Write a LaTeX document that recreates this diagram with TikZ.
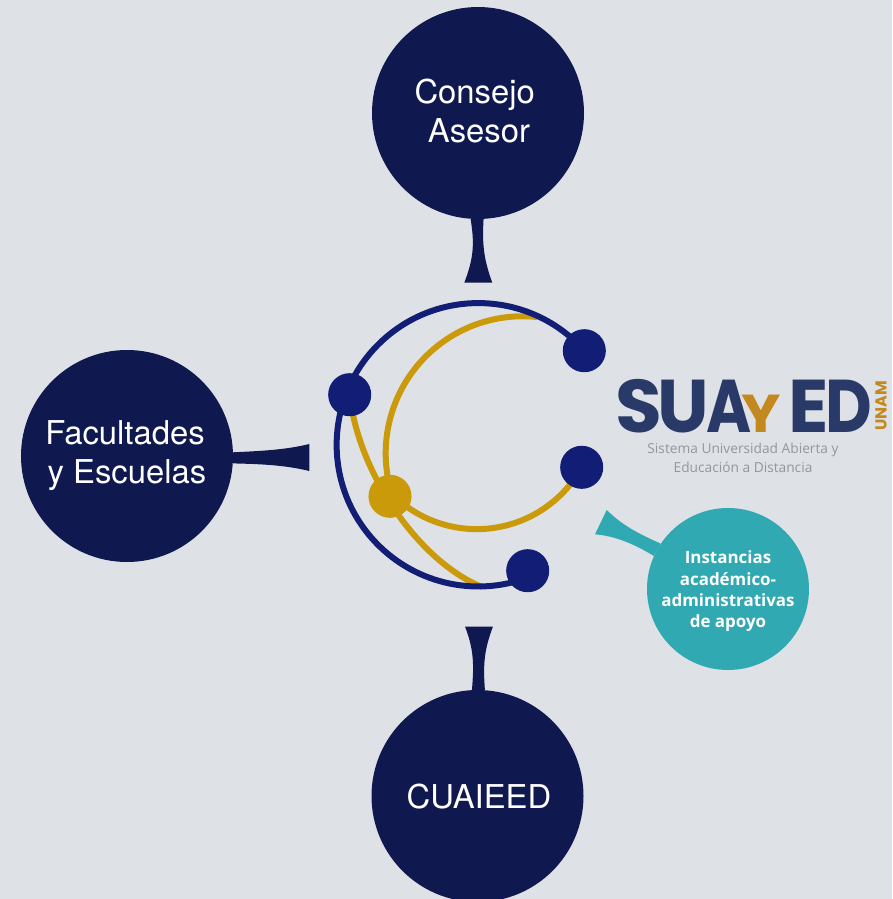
\documentclass[tikz,border=0pt]{standalone}
\usepackage{fontspec}
\setmainfont{TeX Gyre Heros}
\newfontfamily\tealfont{Open Sans}
\newfontfamily\logofont{Poppins}
\usetikzlibrary{positioning, backgrounds}
\definecolor{bgcolor}{HTML}{DEE2E7}
\definecolor{darkblue}{HTML}{10194F}
\definecolor{ringblue}{HTML}{121E75}
\definecolor{ringgold}{HTML}{CB9A0A}
\definecolor{tealcolor}{HTML}{31A9B2}
\definecolor{logoblue}{HTML}{2A3A68}
\definecolor{logogold}{HTML}{C4891E}
\definecolor{logogray}{HTML}{94969A}

\begin{document}
\begin{tikzpicture}[
    x=0.75pt, y=0.75pt,
    bigcircle/.style={
        circle,
        fill=darkblue,
        text=white,
        inner sep=0pt,
        minimum size=159pt,
        align=center,
        font=\fontsize{24.6}{29.3}\selectfont
    },
    tealcircle/.style={
        circle,
        fill=tealcolor,
        text=white,
        inner sep=0pt,
        minimum size=121.5pt,
        align=center,
        font=\tealfont\bfseries\fontsize{12.7}{16}\selectfont
    },
    bluedot/.style={circle, fill=ringblue, inner sep=0pt, minimum size=32.3pt},
    golddot/.style={circle, fill=ringgold, inner sep=0pt, minimum size=32.3pt},
    bluering/.style={draw=ringblue, line width=4.5pt},
    goldring/.style={draw=ringgold, line width=4.5pt},
    logoletter/.style={inner sep=0pt, anchor=base west, text=logoblue, font=\logofont\bfseries\fontsize{56}{56}\selectfont},
    logotext/.style={inner sep=0pt, text=logogray, font=\tealfont\fontsize{10.3}{10.3}\selectfont}
]
    \useasboundingbox (0,0) rectangle (892,-899);

    \node (consejo) [bigcircle] at (478,-113) {Consejo\rule{5pt}{0pt}\\\rule{1.5pt}{0pt}Asesor\rule[-3pt]{0pt}{0pt}};
    \node (facultades) [bigcircle] at (127,-456) {Facultades\rule{3pt}{0pt}\\y Escuelas\rule[-1.5pt]{0pt}{0pt}};
    \node (cuaieed) [bigcircle] at (477.5,-796) {\rule{0pt}{19pt}\hspace{2.2pt}CUAIEED};
    \node (instancias) [tealcircle] at (728,-589) {\rule{0pt}{13.5pt}Instancias\\académico-\\administrativas\\de apoyo};

    % Colas de los circulos
    \fill[darkblue] (consejo.266.5) .. controls (475,-245) and (473,-260) .. (464.3,-282.7)
        -- (492.3,-282.7) .. controls (484,-260) and (482,-245) .. (consejo.273.5) -- cycle;
    \fill[darkblue] (cuaieed.93.5) .. controls (474,-665) and (474,-650) .. (465,-626.5)
        -- (493,-626.5) .. controls (484,-650) and (483,-665) .. (cuaieed.86.5) -- cycle;
    \fill[darkblue] (facultades.2.3) .. controls (260,-451) and (285,-450) .. (309.3,-444)
        -- (309.3,-471) .. controls (285,-465) and (260,-464) .. (facultades.-4.3) -- cycle;
    \fill[tealcolor] (instancias.146.7) .. controls (637,-533) and (622,-525) .. (606.7,-510)
        -- (595,-534.3) .. controls (616,-536) and (636,-545) .. (instancias.156.6) -- cycle;

    \coordinate (goldtop) at (537,-317);
    \coordinate (goldlow) at (482,-587);

    \node (nodetop) [bluedot] at (584.3,-350.7) {};
    \node (nodeleft) [bluedot] at (349.7,-394.7) {};
    \node (nodemid) [bluedot] at (581.7,-467.3) {};
    \node (nodelow) [bluedot] at (527.7,-570.7) {};
    \node (hub) [golddot] at (390,-496.3) {};

    % Arcos del logo, bajo los puntos
    \begin{scope}[on background layer]
    \fill[bgcolor] (0,0) rectangle (892,-899);
    \draw[goldring] (goldtop) arc[start angle=84, end angle=198, radius=137];
    \draw[goldring] (nodemid.center) arc[start angle=331, end angle=224, radius=120];
    \draw[goldring] (nodeleft.center) .. controls (358,-472) and (418,-561) .. (goldlow);
    \draw[bluering] (nodetop.center) arc[start angle=41.6, end angle=291, radius=141.7];
    \end{scope}

    % Logotipo
    \node (logos) [logoletter, xscale=1.02] at (615,-432) {S};
    \node (logou) [logoletter, xscale=0.98] at (657,-432) {U};
    \node (logoa) [logoletter, xscale=0.82] at (706,-432) {A};
    \node (logoy) [logoletter, xscale=1.1, text=logogold, font=\logofont\bfseries\fontsize{40}{40}\selectfont] at (741,-432) {Y};
    \node (logoe) [logoletter] at (788,-432) {E};
    \node (logod) [logoletter, xscale=0.86] at (825,-432) {D};
    \node (logounam) [inner sep=0pt, text=logogold, rotate=90, font=\logofont\bfseries\fontsize{12}{12}\selectfont] at (881,-406) {UNAM};
    \node (logoline) [logotext] at (743,-450) {Sistema Universidad Abierta y};
    \node (logoedu) [logotext] at (743,-467) {Educación a Distancia};
\end{tikzpicture}
\end{document}
